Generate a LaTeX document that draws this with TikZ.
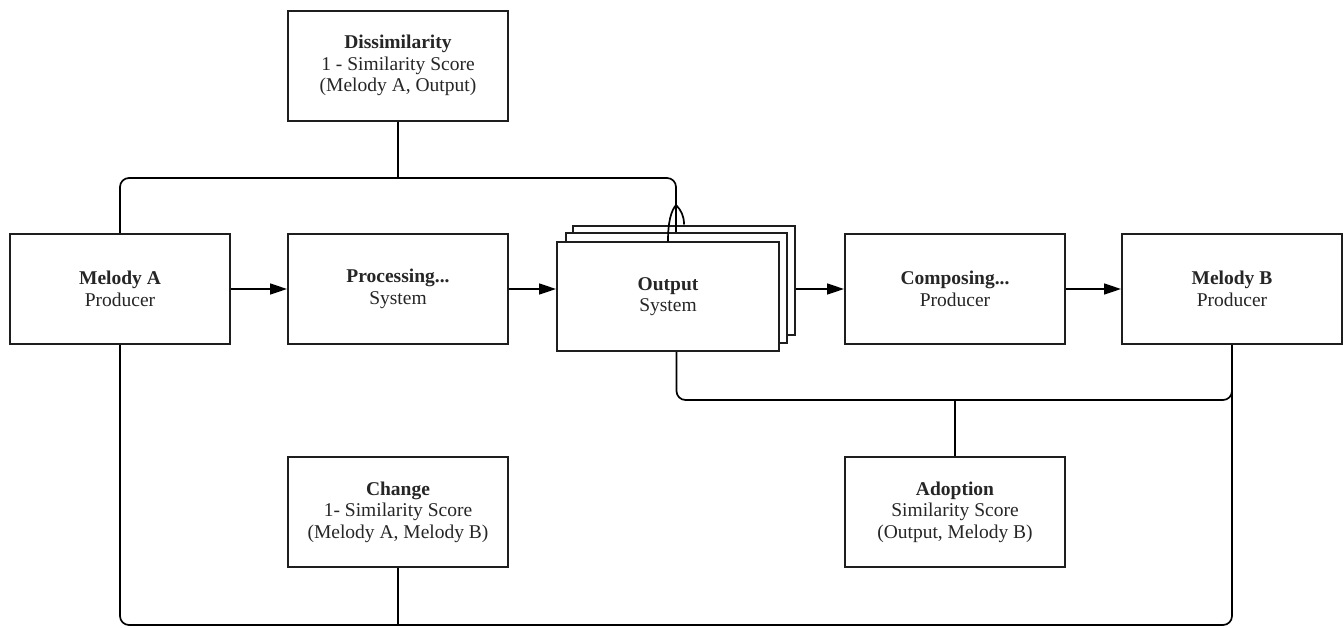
\documentclass[tikz,border=0pt]{standalone}
\usepackage{fontspec}
\setmainfont{Liberation Serif}
\usetikzlibrary{arrows.meta}
\definecolor{txt}{HTML}{262626}
\definecolor{ln}{HTML}{1E1E1E}
\tikzset{
  box/.style={draw=ln, line width=2pt, fill=white, minimum width=220pt, minimum height=110pt,
    align=center, text=txt, font=\fontsize{19.5}{21.5}\selectfont, inner sep=0pt},
  conn/.style={draw=black, line width=1.7pt},
  arr/.style={conn, -{Triangle[length=17pt,width=11pt]}},
}
\begin{document}
\begin{tikzpicture}[x=1pt,y=-1pt]
\useasboundingbox (0,0) rectangle (1343,627);
% nodes
\node[box] (dis) at (398,65.5) {\textbf{Dissimilarity}\\1 - Similarity Score\\(Melody A, Output)};
\node[box] (ma) at (120,289) {\textbf{Melody A}\\Producer};
\node[box] (pr) at (398,289) {\textbf{Processing...}\\System};
\node[box, minimum width=222pt, minimum height=109pt] (out3) at (684,280.5) {};
\node[box, minimum width=221pt, minimum height=110pt] (out2) at (676.5,288) {};
\node[box, minimum width=222pt, minimum height=109pt] (out) at (668,296.5) {\textbf{Output}\\System};
\node[box] (co) at (955,289) {\textbf{Composing...}\\Producer};
\node[box] (mb) at (1232,289) {\textbf{Melody B}\\Producer};
\node[box] (ch) at (398,512) {\textbf{Change}\\1- Similarity Score\\(Melody A, Melody B)};
\node[box] (ad) at (955,512) {\textbf{Adoption}\\Similarity Score\\(Output, Melody B)};
% bus coordinates
\coordinate (tb) at (398,178);
\coordinate (ttop) at (676,232);
\coordinate (bb) at (955,400);
\coordinate (cb) at (398,625);
% horizontal arrows
\draw[arr] (ma.east) -- (pr.west);
\draw[arr] (pr.east) -- (out.west |- pr.east);
\draw[arr] (out3.east |- co.west) -- (co.west);
\draw[arr] (co.east) -- (mb.west);
% top bus
\draw[conn, rounded corners=9pt] (ma.north) |- (tb) -| (ttop);
\draw[conn] (dis.south) -- (tb);
\draw[conn, line cap=round] (668,241) .. controls (668,222) and (671,211) .. (676,205)
  .. controls (681,210) and (684,216) .. (684,224);
% bottom bus from output
\draw[conn, rounded corners=9pt] (out2.south |- out.south) |- (bb) -| (mb.south);
\draw[conn] (ad.north) -- (bb);
% bottom bus change
\draw[conn, rounded corners=9pt] (mb.south) |- (cb) -| (ma.south);
\draw[conn] (ch.south) -- (cb);
\end{tikzpicture}
\end{document}
